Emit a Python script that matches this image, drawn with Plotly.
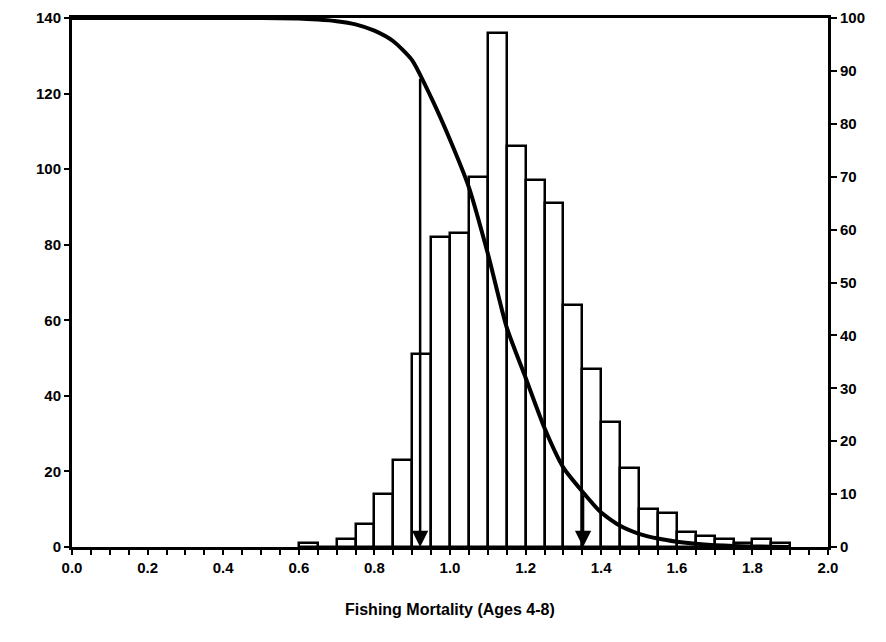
import plotly.graph_objects as go

# Histogram of fishing mortality (bin left edges, width 0.05)
bin_left = [0.60, 0.65, 0.70, 0.75, 0.80, 0.85, 0.90, 0.95, 1.00, 1.05, 1.10, 1.15, 1.20,
            1.25, 1.30, 1.35, 1.40, 1.45, 1.50, 1.55, 1.60, 1.65, 1.70, 1.75, 1.80, 1.85]
counts = [1, 0, 2, 6, 14, 23, 51, 82, 83, 98, 136, 106, 97,
          91, 64, 47, 33, 21, 10, 9, 4, 3, 2, 1, 2, 1]
bin_width = 0.05

# Exceedance probability curve (right axis, %)
curve_f = [0.0, 0.5, 0.6, 0.65, 0.7, 0.75, 0.8, 0.85, 0.9, 0.95, 1.0, 1.05, 1.1, 1.15,
           1.2, 1.25, 1.3, 1.35, 1.4, 1.45, 1.5, 1.55, 1.6, 1.65, 1.7, 1.75, 1.8, 1.85, 1.9]
curve_pct = [100, 100, 99.9, 99.7, 99.4, 98.8, 97.6, 95.6, 92, 85, 77, 68, 55.5, 41.5,
             32, 22.5, 15, 10.5, 6.5, 4, 2.5, 1.6, 1.0, 0.6, 0.35, 0.2, 0.1, 0.05, 0]

# Percentile markers (arrows)
marker_f = [0.921, 1.352]
marker_pct = [88.8, 10.0]

# Axis ticks
x_tickvals = [round(i * 0.05, 2) for i in range(41)]
x_ticktext = [f"{v:.1f}" if abs(v / 0.2 - round(v / 0.2)) < 1e-6 else "" for v in x_tickvals]
y_left_ticks = [0, 20, 40, 60, 80, 100, 120, 140]
y_right_ticks = [0, 10, 20, 30, 40, 50, 60, 70, 80, 90, 100]

FONT = "Liberation Sans, Arial, sans-serif"

fig = go.Figure()
fig.add_trace(go.Bar(
    x=[b + bin_width / 2 for b in bin_left], y=counts, width=bin_width,
    marker=dict(color="white", line=dict(color="black", width=2.5)),
    yaxis="y", showlegend=False, hoverinfo="skip"))
fig.add_trace(go.Scatter(
    x=curve_f, y=curve_pct, mode="lines", yaxis="y2",
    line=dict(color="black", width=4, shape="spline", smoothing=0.6),
    showlegend=False, hoverinfo="skip"))

for f, p in zip(marker_f, marker_pct):
    fig.add_annotation(x=f, y=0, xref="x", yref="y2", ax=f, ay=p, axref="x", ayref="y2",
                       showarrow=True, arrowhead=2, arrowsize=1.3, arrowwidth=2.5,
                       arrowcolor="black", text="")

fig.add_annotation(text="Fishing Mortality (Ages 4-8)", xref="paper", yref="paper",
                   x=0.5, y=0, yshift=-62, yanchor="middle", showarrow=False,
                   font=dict(family=FONT, size=16, color="black", weight="bold"))

fig.update_layout(
    width=886, height=642,
    margin=dict(l=64, r=66, t=10, b=103, autoexpand=False),
    paper_bgcolor="white", plot_bgcolor="white",
    bargap=0,
    xaxis=dict(range=[0, 2], tickvals=x_tickvals, ticktext=x_ticktext, automargin=False,
               ticks="outside", ticklen=5, tickwidth=2, tickcolor="black",
               showline=True, linewidth=3, linecolor="black", mirror=True,
               showgrid=False, zeroline=False,
               tickfont=dict(family=FONT, size=15, color="black", weight="bold")),
    yaxis=dict(range=[0, 140], tickvals=y_left_ticks, automargin=False,
               ticks="outside", ticklen=5, tickwidth=2, tickcolor="black",
               showline=True, linewidth=3, linecolor="black",
               showgrid=False, zeroline=False,
               tickfont=dict(family=FONT, size=15, color="black", weight="bold")),
    yaxis2=dict(range=[0, 100], tickvals=y_right_ticks, overlaying="y", side="right",
                automargin=False,
                ticks="outside", ticklen=6, tickwidth=2, tickcolor="black",
                showline=True, linewidth=3, linecolor="black",
                showgrid=False, zeroline=False,
                tickfont=dict(family=FONT, size=15, color="black", weight="bold")),
)

fig.write_html("out.html")
